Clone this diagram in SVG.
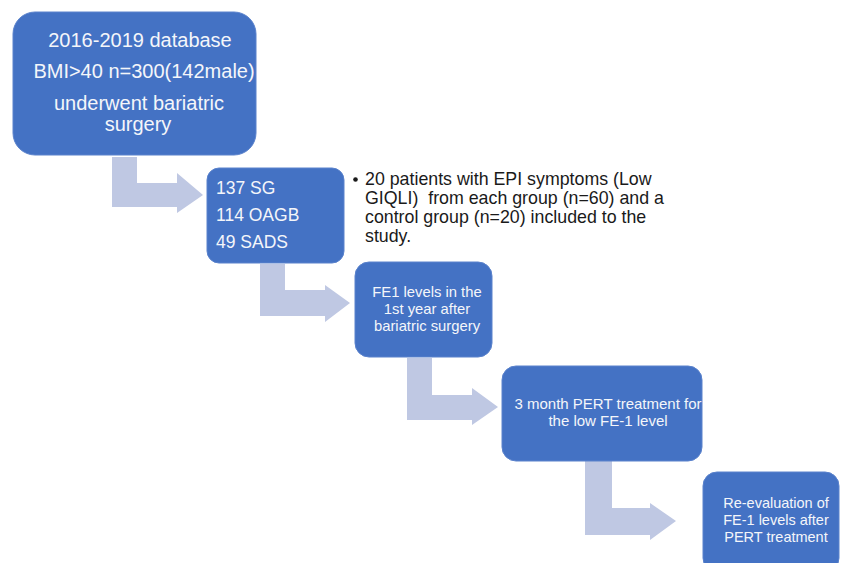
<svg xmlns="http://www.w3.org/2000/svg" width="841" height="563" viewBox="0 0 841 563">
<style>
.box{fill:#4472C4;stroke:#5a82cc;stroke-width:1}
.arr{fill:#BFC8E3}
.wt{fill:#F4F6FA;font-family:"Liberation Sans",Arial,sans-serif}
.bt{fill:#1a1a1a;font-family:"Liberation Sans",Arial,sans-serif;font-size:17.8px}
</style>
<rect width="841" height="563" fill="#ffffff"/>
<g id="connectors">
<polygon class="arr" points="112,157 137,157 137,183 177,183 177,173 203,195 177,213 177,207 112,207"/>
<polygon class="arr" points="260,264 285,264 285,290 325,290 325,285 350,303 325,322 325,316 260,316"/>
<polygon class="arr" points="407,358 432,358 432,395 472,395 472,388 498,407 472,425 472,420 407,420"/>
<polygon class="arr" points="585,461 612,461 612,508 650,508 650,503 676,521 650,540 650,535 585,535"/>
</g>
<g id="node1">
<rect class="box" x="13" y="12" width="243" height="143" rx="22"/>
<text class="wt" font-size="20" text-anchor="middle"><tspan x="140" y="47">2016-2019 database</tspan><tspan x="144" y="78">BMI&gt;40 n=300(142male)</tspan><tspan x="139" y="110">underwent bariatric</tspan><tspan x="138" y="131">surgery</tspan></text>
</g>
<g id="node2">
<rect class="box" x="207" y="168" width="137" height="95" rx="12"/>
<text class="wt" font-size="17.5"><tspan x="216" y="194">137 SG</tspan><tspan x="216" y="221">114 OAGB</tspan><tspan x="216" y="248">49 SADS</tspan></text>
</g>
<g id="note">
<circle cx="355.5" cy="179.5" r="2.3" fill="#1a1a1a"/>
<text class="bt"><tspan x="365" y="185">20 patients with EPI symptoms (Low</tspan><tspan x="365" y="204" xml:space="preserve">GIQLI)  from each group (n=60) and a</tspan><tspan x="365" y="223">control group (n=20) included to the</tspan><tspan x="365" y="242">study.</tspan></text>
</g>
<g id="node3">
<rect class="box" x="355" y="262" width="137" height="95" rx="14"/>
<text class="wt" font-size="14.8" text-anchor="middle"><tspan x="427" y="297">FE1 levels in the</tspan><tspan x="427" y="314">1st year after</tspan><tspan x="427" y="331">bariatric surgery</tspan></text>
</g>
<g id="node4">
<rect class="box" x="502" y="366" width="200" height="95" rx="14"/>
<text class="wt" font-size="15" text-anchor="middle"><tspan x="608" y="409">3 month PERT treatment for</tspan><tspan x="608" y="426">the low FE-1 level</tspan></text>
</g>
<g id="node5">
<rect class="box" x="703" y="472" width="136" height="100" rx="14"/>
<text class="wt" font-size="14.5" text-anchor="middle"><tspan x="776" y="508">Re-evaluation of</tspan><tspan x="776" y="525">FE-1 levels after</tspan><tspan x="776" y="542">PERT treatment</tspan></text>
</g>
</svg>
